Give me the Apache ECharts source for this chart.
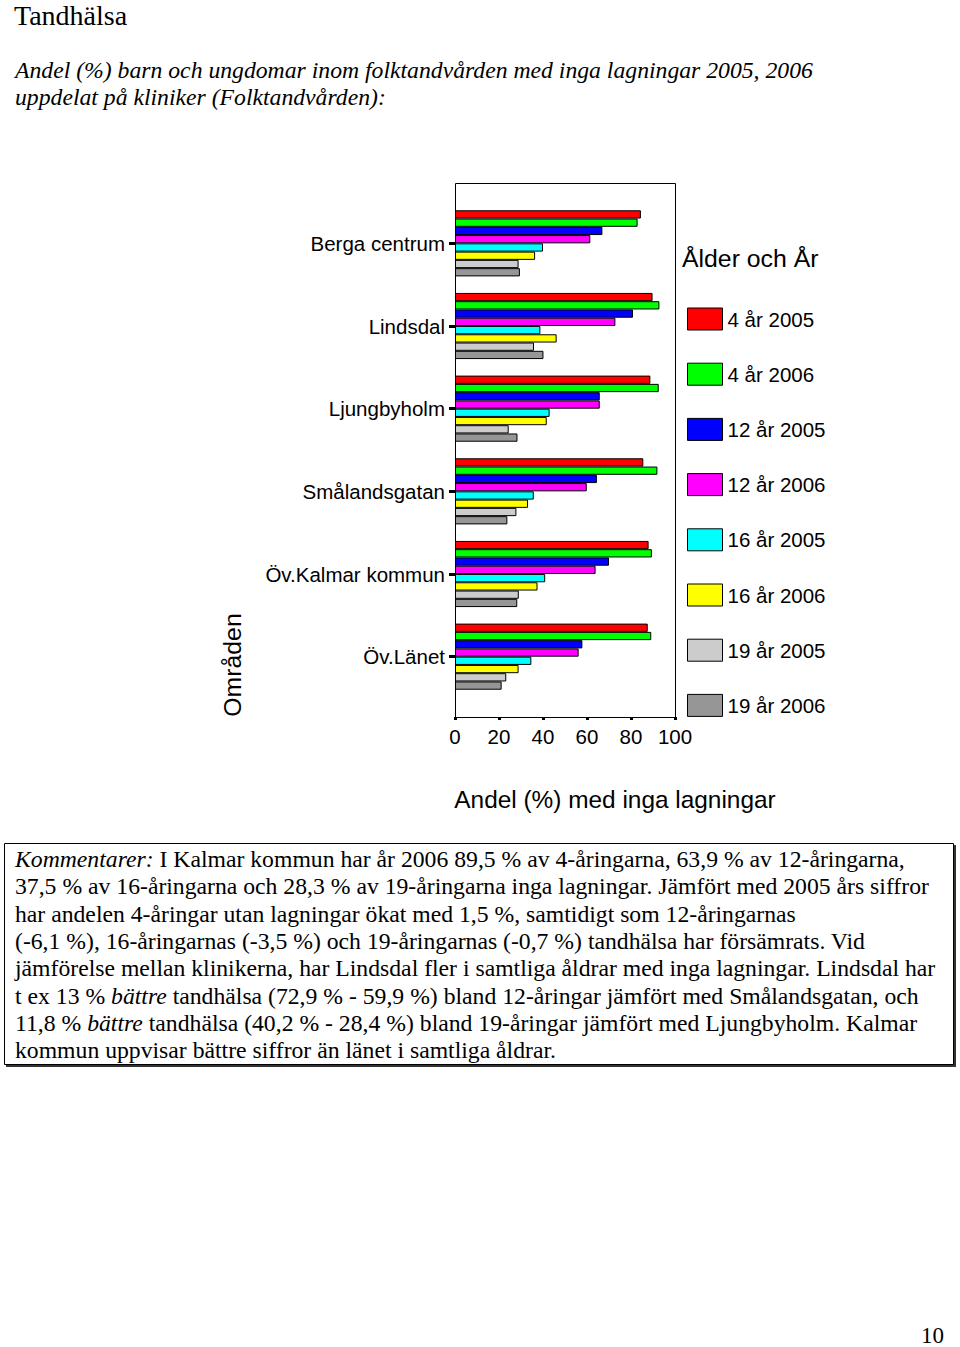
<!DOCTYPE html>
<html>
<head>
<meta charset="utf-8">
<script src="https://cdn.jsdelivr.net/npm/echarts@6/dist/echarts.min.js"></script>
<style>
html,body{margin:0;padding:0;background:#fff;}
#c{width:960px;height:1347px;}
</style>
</head>
<body>
<div id="c"></div>
<script>
const categories = ['Berga centrum', 'Lindsdal', 'Ljungbyholm', 'Smålandsgatan', 'Öv.Kalmar kommun', 'Öv.Länet'];
const seriesNames = ['4 år 2005', '4 år 2006', '12 år 2005', '12 år 2006', '16 år 2005', '16 år 2006', '19 år 2005', '19 år 2006'];
const age4_2005 = [84.5, 89.8, 88.8, 85.6, 88.0, 87.6];
const age4_2006 = [83.0, 92.9, 92.6, 92.0, 89.5, 89.2];
const age12_2005 = [67.0, 80.9, 65.8, 64.5, 70.0, 57.9];
const age12_2006 = [61.5, 72.9, 65.8, 59.9, 63.9, 56.2];
const age16_2005 = [40.0, 38.8, 43.0, 35.8, 41.0, 34.7];
const age16_2006 = [36.4, 46.2, 41.7, 33.2, 37.5, 28.9];
const age19_2005 = [28.9, 35.9, 24.4, 27.9, 29.0, 23.3];
const age19_2006 = [29.5, 40.2, 28.4, 23.8, 28.3, 21.2];
const xTicks = [0, 20, 40, 60, 80, 100];

const seriesData = [age4_2005, age4_2006, age12_2005, age12_2006, age16_2005, age16_2006, age19_2005, age19_2006];
const colors = ['#FF0000', '#00FF00', '#0000FF', '#FF00FF', '#00FFFF', '#FFFF00', '#CCCCCC', '#969696'];

const serif = '"Liberation Serif", "DejaVu Serif", serif';
const sans = '"Liberation Sans", Arial, sans-serif';

const commentLines = [
  '{i|Kommentarer:} I Kalmar kommun har år 2006 89,5 % av 4-åringarna, 63,9 % av 12-åringarna,',
  '37,5 % av 16-åringarna och 28,3 % av 19-åringarna inga lagningar. Jämfört med 2005 års siffror',
  'har andelen 4-åringar utan lagningar ökat med 1,5 %, samtidigt som 12-åringarnas',
  '(-6,1 %), 16-åringarnas (-3,5 %) och 19-åringarnas (-0,7 %) tandhälsa har försämrats. Vid',
  'jämförelse mellan klinikerna, har Lindsdal fler i samtliga åldrar med inga lagningar. Lindsdal har',
  't ex 13 % {i|bättre} tandhälsa (72,9 % - 59,9 %) bland 12-åringar jämfört med Smålandsgatan, och',
  '11,8 % {i|bättre} tandhälsa (40,2 % - 28,4 %) bland 19-åringar jämfört med Ljungbyholm. Kalmar',
  'kommun uppvisar bättre siffror än länet i samtliga åldrar.'
];

const chart = echarts.init(document.getElementById('c'), null, {renderer: 'svg'});

const graphics = [
  {type: 'text', x: 14, y: 15, style: {text: 'Tandhälsa', font: '28px ' + serif, fill: '#000', textVerticalAlign: 'middle'}},
  {type: 'text', x: 15, y: 70, style: {text: 'Andel (%) barn och ungdomar inom folktandvården med inga lagningar 2005, 2006', font: 'italic 23.7px ' + serif, fill: '#000', textVerticalAlign: 'middle'}},
  {type: 'text', x: 15, y: 97, style: {text: 'uppdelat på kliniker (Folktandvården):', font: 'italic 23.7px ' + serif, fill: '#000', textVerticalAlign: 'middle'}},
  // plot frame
  {type: 'rect', shape: {x: 455.5, y: 183.5, width: 220, height: 534}, style: {fill: 'none', stroke: '#000', lineWidth: 1}, z: 10},
  {type: 'text', x: 682, y: 258, style: {text: 'Ålder och År', font: '24.8px ' + sans, fill: '#000', textVerticalAlign: 'middle'}},
  {type: 'text', x: 232, y: 665, rotation: Math.PI / 2, style: {text: 'Områden', font: '24.8px ' + sans, fill: '#000', textAlign: 'center', textVerticalAlign: 'middle'}},
  {type: 'text', x: 615, y: 799, style: {text: 'Andel (%) med inga lagningar', font: '24.4px ' + sans, fill: '#000', textAlign: 'center', textVerticalAlign: 'middle'}},
  // comment box
  {type: 'rect', shape: {x: 6, y: 845, width: 950, height: 222}, style: {fill: '#333', stroke: 'none'}},
  {type: 'rect', shape: {x: 4.5, y: 843.5, width: 949, height: 221}, style: {fill: '#fff', stroke: '#000', lineWidth: 1}},
  {type: 'text', x: 944, y: 1335, style: {text: '10', font: '23px ' + serif, fill: '#000', textAlign: 'right', textVerticalAlign: 'middle'}}
];
commentLines.forEach(function (line, i) {
  graphics.push({
    type: 'text', x: 15, y: 859 + i * 27.3, z: 20,
    style: {
      text: line, fill: '#000', font: '23.7px ' + serif, textVerticalAlign: 'middle',
      rich: {i: {fontStyle: 'italic', fontFamily: serif, fontSize: 23.7, fill: '#000'}}
    }
  });
});

chart.setOption({
  animation: false,
  backgroundColor: '#fff',
  color: colors,
  textStyle: {fontFamily: sans},
  grid: {left: 455, top: 202, width: 220, height: 496, containLabel: false},
  legend: {
    orient: 'vertical', left: 682, top: 302.5, itemWidth: 35, itemHeight: 22, itemGap: 32.2,
    icon: 'rect',
    itemStyle: {borderColor: '#000', borderWidth: 1},
    textStyle: {fontSize: 20.5, color: '#000', fontFamily: sans},
    data: seriesNames
  },
  xAxis: {
    type: 'value', min: 0, max: 100, interval: 20, offset: 19,
    axisLine: {show: true, lineStyle: {color: '#000', width: 1}},
    axisTick: {show: true, length: 3, lineStyle: {color: '#000', width: 3}},
    axisLabel: {fontSize: 20.5, color: '#000', margin: 9, fontFamily: sans},
    splitLine: {show: false},
    data: xTicks
  },
  yAxis: {
    type: 'category', inverse: true, data: categories,
    axisLine: {show: false},
    axisTick: {show: true, alignWithLabel: true, length: 6, lineStyle: {color: '#000', width: 3}},
    axisLabel: {fontSize: 20.5, color: '#000', margin: 10, fontFamily: sans}
  },
  series: seriesNames.map(function (name, i) {
    return {
      name: name, type: 'bar', data: seriesData[i],
      barGap: '0%', barCategoryGap: '20%',
      itemStyle: {color: colors[i], borderColor: '#000', borderWidth: 1}
    };
  }),
  graphic: graphics
});
</script>
</body>
</html>
